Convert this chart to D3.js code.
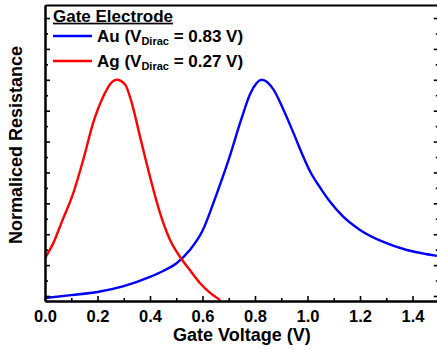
<!DOCTYPE html>
<html>
<head>
<meta charset="utf-8">
<script src="https://cdn.jsdelivr.net/npm/d3@7"></script>
<style>
  html, body { margin: 0; padding: 0; background: #fff; }
  svg { display: block; }
  text { font-family: "Liberation Sans", Arial, sans-serif; font-weight: bold; fill: #000; }
</style>
</head>
<body>
<svg id="chart" width="437" height="350"></svg>
<script>
// ---- data ----
const auVoltage = [0.0, 0.1, 0.2, 0.3, 0.4, 0.45, 0.5, 0.55, 0.6, 0.65, 0.7, 0.75, 0.781, 0.826, 0.87, 0.908, 0.946, 0.984, 1.01, 1.048, 1.086, 1.137, 1.2, 1.289, 1.378, 1.45, 1.5];
const auResistance = [0.2935, 0.303, 0.313, 0.332, 0.362, 0.381, 0.405, 0.447, 0.511, 0.621, 0.742, 0.878, 0.953, 1.0, 0.969, 0.904, 0.829, 0.751, 0.703, 0.651, 0.605, 0.556, 0.514, 0.475, 0.449, 0.436, 0.429];
const agVoltage = [0.0, 0.032, 0.064, 0.108, 0.146, 0.184, 0.222, 0.254, 0.273, 0.305, 0.33, 0.362, 0.4, 0.438, 0.476, 0.514, 0.552, 0.59, 0.629, 0.667];
const agResistance = [0.423, 0.472, 0.54, 0.634, 0.742, 0.862, 0.946, 0.992, 1.0, 0.985, 0.927, 0.816, 0.686, 0.569, 0.482, 0.427, 0.384, 0.342, 0.31, 0.287];
const xTickValues = [0.0, 0.2, 0.4, 0.6, 0.8, 1.0, 1.2, 1.4];
const xMinorTickValues = [0.1, 0.3, 0.5, 0.7, 0.9, 1.1, 1.3, 1.5];
const yTickValues = [0.3, 0.4, 0.5, 0.6, 0.7, 0.8, 0.9, 1.0, 1.1, 1.2];
const yMinorTickValues = [0.35, 0.45, 0.55, 0.65, 0.75, 0.85, 0.95, 1.05, 1.15];
const seriesNames = ["Au", "Ag"];
const diracValues = ["0.83", "0.27"];
const seriesColors = ["#0000ff", "#ff0000"];

// ---- layout ----
const svg = d3.select("#chart");
const mLeft = 45, mRight = 438.75, mTop = 5, mBottom = 301;

const x = d3.scaleLinear().domain([0, 1.5]).range([mLeft, mRight]);
const y = d3.scaleLinear().domain([0.2838, 1.2422]).range([mBottom, mTop]);

// curves
const series = [
  { v: auVoltage, r: auResistance, color: seriesColors[0] },
  { v: agVoltage, r: agResistance, color: seriesColors[1] }
];
const line = d3.line()
  .x(d => x(d[0]))
  .y(d => y(d[1]))
  .curve(d3.curveMonotoneX);

const plot = svg.append("g");
plot.append("clipPath").attr("id", "clip")
  .append("rect").attr("x", mLeft).attr("y", mTop).attr("width", mRight - mLeft).attr("height", mBottom - mTop);

series.forEach(s => {
  plot.append("path")
    .attr("clip-path", "url(#clip)")
    .datum(s.v.map((v, i) => [v, s.r[i]]))
    .attr("d", line)
    .attr("fill", "none")
    .attr("stroke", s.color)
    .attr("stroke-width", 2.4)
    .attr("stroke-linejoin", "round");
});

// axes
function styleAxis(g) {
  g.select(".domain").attr("stroke", "#000").attr("stroke-width", 2);
  g.selectAll(".tick line").attr("stroke", "#000").attr("stroke-width", 1.6);
}

// bottom major
const xAxis = svg.append("g").attr("transform", `translate(0,${mBottom})`)
  .call(d3.axisBottom(x).tickValues(xTickValues).tickSizeInner(-5).tickSizeOuter(0).tickPadding(9)
        .tickFormat(d3.format(".1f")));
styleAxis(xAxis);
xAxis.selectAll("text")
  .attr("font-size", 16.5).attr("font-family", "'Liberation Sans', Arial, sans-serif")
  .attr("font-weight", "bold").attr("fill", "#000")
  .attr("dy", null).attr("y", 20.8);
// bottom minor
const xMinor = svg.append("g").attr("transform", `translate(0,${mBottom})`)
  .call(d3.axisBottom(x).tickValues(xMinorTickValues).tickSizeInner(-3).tickSizeOuter(0).tickFormat(""));
styleAxis(xMinor);

// top line (no ticks)
const xTop = svg.append("g").attr("transform", `translate(0,${mTop})`)
  .call(d3.axisTop(x).tickValues([]).tickSizeOuter(0));
styleAxis(xTop);

// left
const yAxis = svg.append("g").attr("transform", `translate(${mLeft},0)`)
  .call(d3.axisLeft(y).tickValues(yTickValues).tickSizeInner(-5).tickSizeOuter(0).tickFormat(""));
styleAxis(yAxis);
const yMinor = svg.append("g").attr("transform", `translate(${mLeft},0)`)
  .call(d3.axisLeft(y).tickValues(yMinorTickValues).tickSizeInner(-3).tickSizeOuter(0).tickFormat(""));
styleAxis(yMinor);

// right
const yRight = svg.append("g").attr("transform", `translate(${mRight},0)`)
  .call(d3.axisRight(y).tickValues(yTickValues).tickSizeInner(-5).tickSizeOuter(0).tickFormat(""));
styleAxis(yRight);
const yRightMinor = svg.append("g").attr("transform", `translate(${mRight},0)`)
  .call(d3.axisRight(y).tickValues(yMinorTickValues).tickSizeInner(-3).tickSizeOuter(0).tickFormat(""));
styleAxis(yRightMinor);

// axis titles
svg.append("text")
  .attr("x", (mLeft + mRight) / 2).attr("y", 341)
  .attr("text-anchor", "middle").attr("font-size", 18)
  .text("Gate Voltage (V)");

svg.append("text")
  .attr("transform", `translate(22,145) rotate(-90)`)
  .attr("text-anchor", "middle").attr("font-size", 18)
  .text("Normaliced Resistance");

// legend
const legend = svg.append("g");
legend.append("text")
  .attr("x", 53).attr("y", 21.7).attr("font-size", 17)
  .attr("text-decoration", "underline")
  .text("Gate Electrode");

seriesNames.forEach((name, i) => {
  const ly = 36 + i * 25;
  legend.append("line")
    .attr("x1", 53).attr("x2", 92).attr("y1", ly).attr("y2", ly)
    .attr("stroke", seriesColors[i]).attr("stroke-width", 2.4);
  const t = legend.append("text")
    .attr("x", 97).attr("y", ly + 5.7).attr("font-size", 17);
  t.append("tspan").text(`${name} (V`);
  t.append("tspan").attr("font-size", 11).attr("dy", 3.5).text("Dirac");
  t.append("tspan").attr("dy", -3.5).text(` = ${diracValues[i]} V)`);
});
</script>
</body>
</html>
